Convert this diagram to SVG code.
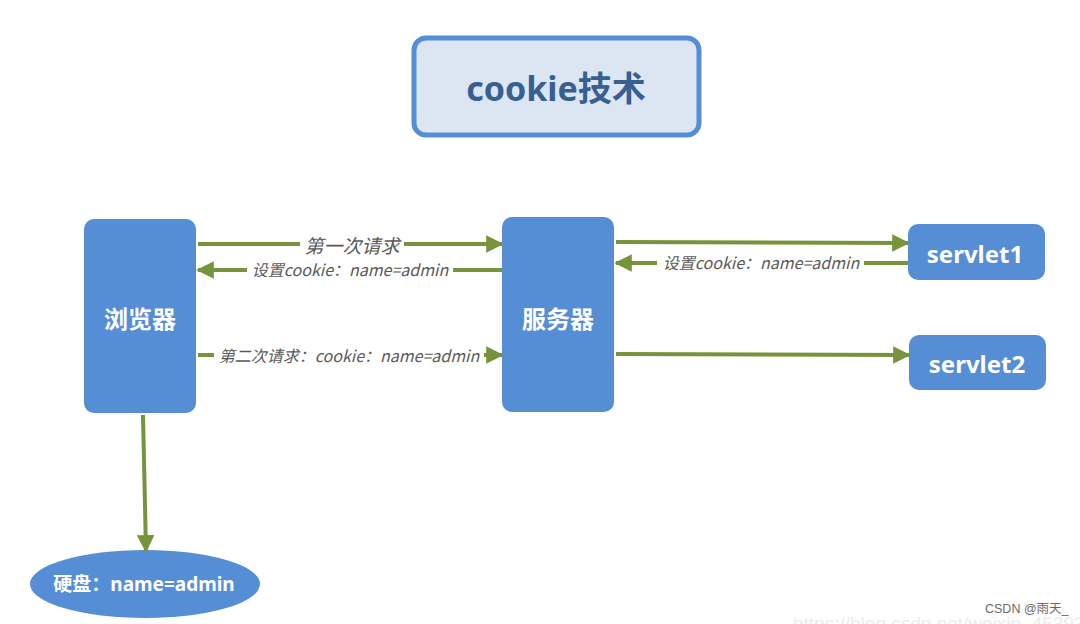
<svg xmlns="http://www.w3.org/2000/svg" width="1080" height="624" viewBox="0 0 1080 624">
<defs>
<marker id="ah" viewBox="0 0 10 10" refX="9" refY="5" markerWidth="4.4" markerHeight="4.4" markerUnits="strokeWidth" orient="auto">
<path d="M0,0 L10,5 L0,10 z" fill="#77933c"/>
</marker>
<style>
.node{fill:#558ed5;}
.nt{fill:#ffffff;font-family:"Noto Sans","Noto Sans CJK SC",sans-serif;font-weight:bold;text-anchor:middle;dominant-baseline:central;}
.ln{stroke:#77933c;stroke-width:4;fill:none;}
.lbg{fill:#ffffff;}
.lt{fill:#595959;font-family:"Noto Sans CJK SC",sans-serif;font-style:italic;font-size:16px;text-anchor:middle;dominant-baseline:central;}
.lt.big{font-size:19px;}
</style>
</defs>
<rect width="1080" height="624" fill="#ffffff"/>
<g id="title">
<rect x="414" y="38" width="285" height="97" rx="12" fill="#dce6f2" stroke="#558ed5" stroke-width="5"/>
<text x="556" y="88" font-family="'Noto Sans','Noto Sans CJK SC',sans-serif" font-weight="bold" font-size="34" fill="#376092" text-anchor="middle" dominant-baseline="central">cookie技术</text>
</g>
<g id="browser">
<rect class="node" x="84" y="219" width="112" height="194" rx="10"/>
<text class="nt" x="140" y="318" font-size="24">浏览器</text>
</g>
<g id="server">
<rect class="node" x="502" y="217" width="112" height="195" rx="10"/>
<text class="nt" x="558" y="318" font-size="24">服务器</text>
</g>
<g id="servlet1">
<rect class="node" x="908" y="224" width="137" height="56" rx="10"/>
<text class="nt" x="975" y="253" font-size="24">servlet1</text>
</g>
<g id="servlet2">
<rect class="node" x="909" y="335" width="137" height="55" rx="10"/>
<text class="nt" x="977" y="363" font-size="24">servlet2</text>
</g>
<g id="disk">
<ellipse class="node" cx="145" cy="584" rx="115" ry="34"/>
<text class="nt" x="144" y="584" font-size="19">硬盘：name=admin</text>
</g>
<g id="connectors">
<line class="ln" x1="198" y1="244" x2="502" y2="244" marker-end="url(#ah)"/>
<rect class="lbg" x="300" y="233" width="104" height="22"/>
<text class="lt big" x="352" y="244">第一次请求</text>
<line class="ln" x1="502" y1="270" x2="198" y2="270" marker-end="url(#ah)"/>
<rect class="lbg" x="247" y="260" width="206" height="20"/>
<text class="lt" x="350" y="269">设置cookie：name=admin</text>
<line class="ln" x1="198" y1="355" x2="502" y2="355" marker-end="url(#ah)"/>
<rect class="lbg" x="214" y="345" width="270" height="20"/>
<text class="lt" x="349" y="355">第二次请求：cookie：name=admin</text>
<line class="ln" x1="616" y1="242" x2="908" y2="243" marker-end="url(#ah)"/>
<line class="ln" x1="908" y1="263" x2="616" y2="263" marker-end="url(#ah)"/>
<rect class="lbg" x="657" y="253" width="207" height="20"/>
<text class="lt" x="761" y="262">设置cookie：name=admin</text>
<line class="ln" x1="616" y1="354" x2="909" y2="355" marker-end="url(#ah)"/>
<line class="ln" x1="143" y1="415" x2="146" y2="551" marker-end="url(#ah)"/>
</g>
<g id="watermark">
<text x="793" y="630" font-family="'Liberation Sans',sans-serif" font-size="19" fill="#ececec">https://blog.csdn.net/weixin_453930</text>
<text x="985" y="613" font-family="'Liberation Sans','Noto Sans CJK SC',sans-serif" font-size="12.5" fill="#6a6a6a">CSDN @雨天_</text>
</g>
</svg>
